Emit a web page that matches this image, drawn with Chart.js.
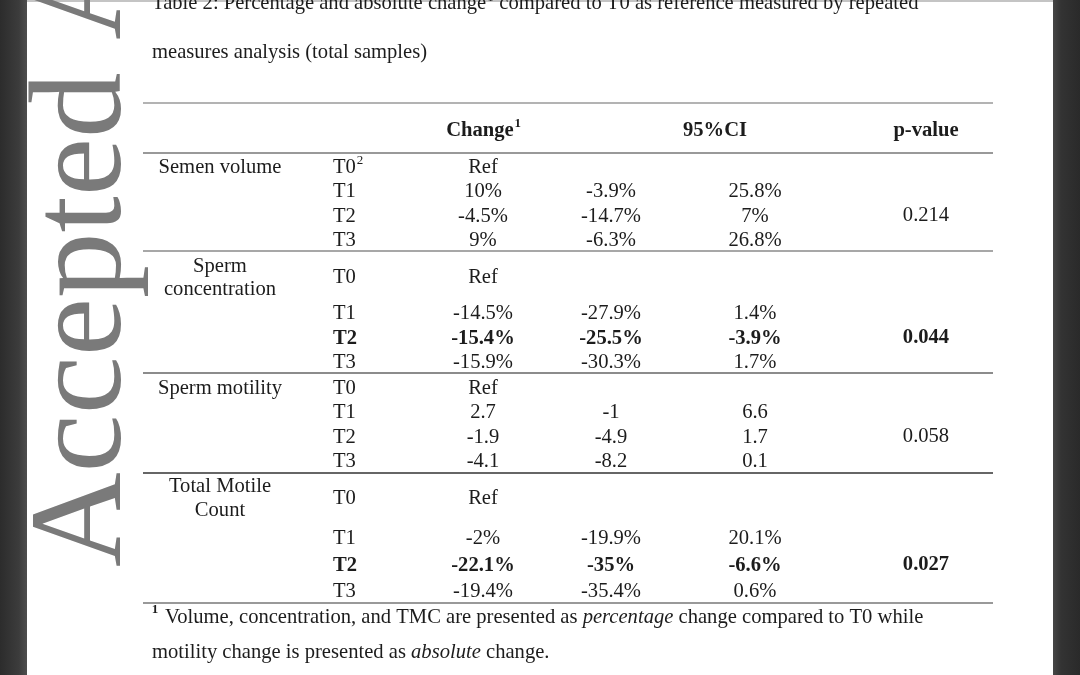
<!DOCTYPE html>
<html>
<head>
<meta charset="utf-8">
<script src="https://cdn.jsdelivr.net/npm/chart.js@4.4.1/dist/chart.umd.min.js"></script>
<style>
  html, body { margin: 0; padding: 0; background: #fff; overflow: hidden; }
  canvas { display: block; }
</style>
</head>
<body>
<canvas id="tableChart" width="1080" height="675"></canvas>
<script>
// Table data
const measures = ['Semen volume', 'Sperm\nconcentration', 'Sperm motility', 'Total Motile\nCount'];
const timepoints = ['T0', 'T1', 'T2', 'T3'];
const changes = [
    ['Ref', '10%', '-4.5%', '9%'],
    ['Ref', '-14.5%', '-15.4%', '-15.9%'],
    ['Ref', '2.7', '-1.9', '-4.1'],
    ['Ref', '-2%', '-22.1%', '-19.4%']
];
const ciLow = [
    ['', '-3.9%', '-14.7%', '-6.3%'],
    ['', '-27.9%', '-25.5%', '-30.3%'],
    ['', '-1', '-4.9', '-8.2'],
    ['', '-19.9%', '-35%', '-35.4%']
];
const ciHigh = [
    ['', '25.8%', '7%', '26.8%'],
    ['', '1.4%', '-3.9%', '1.7%'],
    ['', '6.6', '1.7', '0.1'],
    ['', '20.1%', '-6.6%', '0.6%']
];
const pValues = ['0.214', '0.044', '0.058', '0.027'];
const significant = [false, true, false, true]; // T2 row and p-value in bold
const headers = ['Change', '95%CI', 'p-value'];

// Layout (page units, mapped through the chart scales)
const colLabel = 220, colTime = 333, colChange = 483, colLow = 611, colHigh = 755, colP = 926;
const rowsY = [
    [168, 192, 217, 241],
    [278, 314, 339, 363],
    [389, 413, 438, 462],
    [499, 539, 566, 592]
];
const labelY = [[168], [267, 290], [389], [487, 511]];
const rules = [103, 153, 251, 373, 473, 603];
const ruleColors = ['#9a9a9a', '#777', '#8a8a8a', '#666', '#333', '#777'];

const SERIF = '"Liberation Serif", "Times New Roman", serif';
const BASE = 20.6;
const font = (size, bold, italic) => `${italic ? 'italic ' : ''}${bold ? 'bold ' : ''}${size}px ${SERIF}`;

const pagePlugin = {
    id: 'page',
    beforeDraw(chart) {
        const c = chart.ctx;
        const W = chart.width, H = chart.height;
        c.save();
        c.fillStyle = '#fff';
        c.fillRect(0, 0, W, H);
        // dark side strips
        let g = c.createLinearGradient(0, 0, 27, 0);
        g.addColorStop(0, '#2c2c2c');
        g.addColorStop(0.7, '#3c3c3c');
        g.addColorStop(1, '#4e4e4e');
        c.fillStyle = g;
        c.fillRect(0, 0, 27, H);
        g = c.createLinearGradient(1053, 0, 1080, 0);
        g.addColorStop(0, '#464646');
        g.addColorStop(0.3, '#333');
        g.addColorStop(1, '#2a2a2a');
        c.fillStyle = g;
        c.fillRect(1053, 0, 27, H);
        c.fillStyle = '#c4c4c4';
        c.fillRect(27, 0, 1026, 2);
        // watermark
        c.translate(120, 567);
        c.rotate(-Math.PI / 2);
        c.fillStyle = '#7a7a7a';
        c.font = `131px ${SERIF}`;
        c.textBaseline = 'alphabetic';
        c.fillText('Accepted A', 0, 0);
        c.restore();
    }
};

const tablePlugin = {
    id: 'table',
    afterDraw(chart) {
        const c = chart.ctx;
        const sx = v => chart.scales.x.getPixelForValue(v);
        const sy = v => chart.scales.y.getPixelForValue(v);
        c.save();
        c.fillStyle = '#1c1c1c';
        c.textBaseline = 'middle';

        const text = (s, x, y, align, bold, italic, size) => {
            c.font = font(size || BASE, bold, italic);
            c.textAlign = align || 'center';
            c.fillText(s, sx(x), sy(y));
            return c.measureText(s).width;
        };
        const runs = (parts, x, y) => {
            c.textAlign = 'left';
            let px = sx(x);
            parts.forEach(([s, italic]) => {
                c.font = font(BASE, false, italic);
                c.fillText(s, px, sy(y));
                px += c.measureText(s).width;
            });
        };

        // caption
        c.textBaseline = 'alphabetic';
        c.font = font(BASE);
        c.textAlign = 'left';
        const cap1 = 'Table 2: Percentage and absolute change';
        c.fillText(cap1, sx(152), sy(9));
        let w = c.measureText(cap1).width;
        c.font = font(13);
        c.fillText('1', sx(152) + w + 1, sy(1));
        c.font = font(BASE);
        c.fillText(' compared to T0 as reference measured by repeated', sx(152) + w + 8, sy(9));
        c.fillText('measures analysis (total samples)', sx(152), sy(58));
        c.textBaseline = 'middle';

        // rules
        rules.forEach((y, i) => {
            c.strokeStyle = ruleColors[i];
            c.lineWidth = 1.6;
            c.beginPath();
            c.moveTo(sx(143), sy(y));
            c.lineTo(sx(993), sy(y));
            c.stroke();
        });

        // header
        w = text(headers[0], colChange - 3, 131, 'center', true);
        text('1', colChange - 3 + w / 2 + 4, 124, 'center', true, false, 13);
        text(headers[1], 715, 131, 'center', true);
        text(headers[2], colP, 131, 'center', true);

        // body
        measures.forEach((m, g) => {
            const lines = m.split('\n');
            lines.forEach((ln, k) => text(ln, colLabel, labelY[g][k], 'center'));
            timepoints.forEach((t, r) => {
                const y = rowsY[g][r];
                const b = significant[g] && r === 2;
                const tw = text(t, colTime, y, 'left', b);
                if (g === 0 && r === 0) text('2', colTime + tw + 4, y - 7, 'center', false, false, 13);
                text(changes[g][r], colChange, y, 'center', b);
                if (ciLow[g][r]) text(ciLow[g][r], colLow, y, 'center', b);
                if (ciHigh[g][r]) text(ciHigh[g][r], colHigh, y, 'center', b);
            });
            text(pValues[g], colP, rowsY[g][2] - 1, 'center', significant[g]);
        });

        // footnote
        text('1', 155, 610, 'center', true, false, 13);
        runs([['Volume, concentration, and TMC are presented as ', false], ['percentage', true], [' change compared to T0 while', false]], 165, 618);
        runs([['motility change is presented as ', false], ['absolute', true], [' change.', false]], 152, 653);
        c.restore();
    }
};

const ctx = document.getElementById('tableChart').getContext('2d');
new Chart(ctx, {
    type: 'scatter',
    data: { datasets: [{ data: [], pointRadius: 0 }] },
    options: {
        responsive: false,
        animation: false,
        events: [],
        layout: { padding: 0 },
        plugins: { legend: { display: false }, tooltip: { enabled: false } },
        scales: {
            x: { type: 'linear', min: 0, max: 1080, display: false },
            y: { type: 'linear', min: 0, max: 675, reverse: true, display: false }
        }
    },
    plugins: [pagePlugin, tablePlugin]
});
</script>
</body>
</html>
